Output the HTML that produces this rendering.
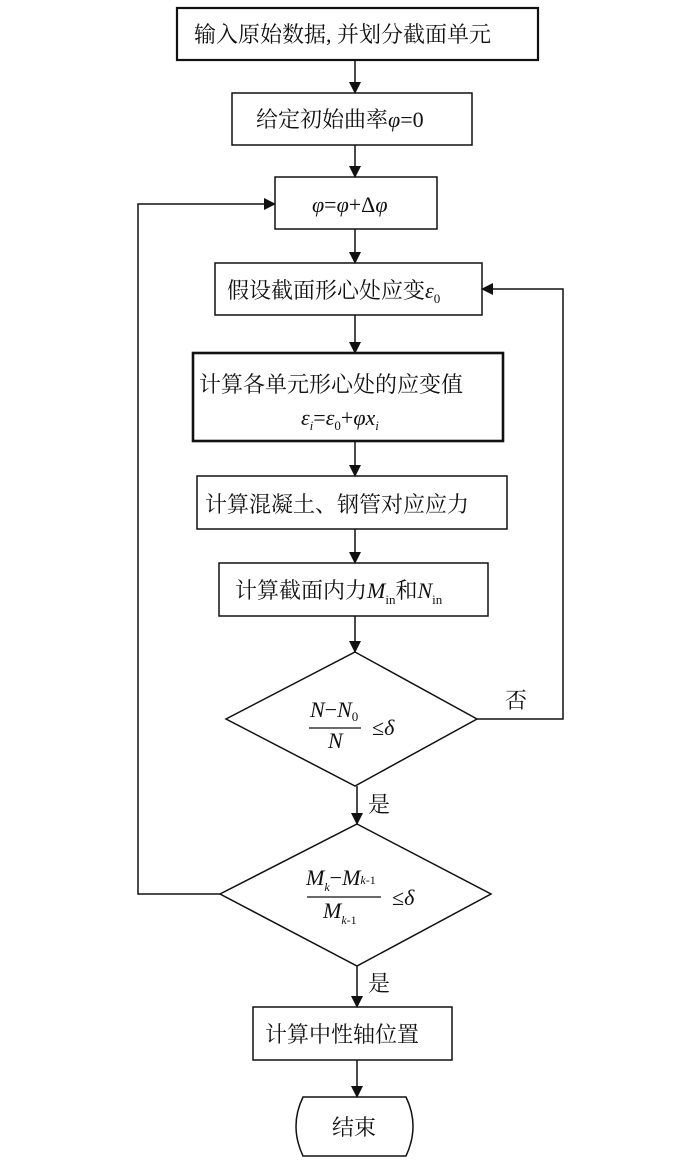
<!DOCTYPE html>
<html><head><meta charset="utf-8"><style>
html,body{margin:0;padding:0;background:#fff;}
svg{display:block;}
text{font-family:"Liberation Serif","Noto Serif CJK SC","Noto Sans CJK SC",serif;fill:#111;}
.c{font-size:22px;}
.i{font-style:italic;font-family:"Liberation Serif",serif;}
</style></head><body>
<svg width="700" height="1163" viewBox="0 0 700 1163" xmlns="http://www.w3.org/2000/svg">
<defs><marker id="a" markerWidth="10" markerHeight="10" refX="9" refY="5" orient="auto" markerUnits="userSpaceOnUse"><path d="M0,0 L10,5 L0,10 Z" fill="#111"/></marker>
<marker id="b" markerWidth="12" markerHeight="22" refX="11" refY="6" orient="auto" markerUnits="userSpaceOnUse"><path d="M0,0 L12,6 L0,12 Z" fill="#111"/></marker></defs>
<g fill="none" stroke="#111" stroke-width="1.5">
<rect x="177" y="8" width="361" height="52" stroke-width="2.2"/>
<rect x="232" y="93" width="240" height="52"/>
<rect x="275" y="177" width="162" height="52"/>
<rect x="215" y="263" width="267" height="52"/>
<rect x="193" y="353" width="310" height="88" stroke-width="2.6"/>
<rect x="197" y="476" width="310" height="53"/>
<rect x="219" y="563" width="269" height="53"/>
<polygon points="355,652 477,719 355,786 226,719"/>
<polygon points="357,824 491,894 357,966 220,894"/>
<rect x="253" y="1007" width="199" height="53"/>
<path d="M303,1097 L406,1097 Q420,1126 406,1156 L303,1156 Q289,1126 303,1097 Z"/>
<g marker-end="url(#b)">
<line x1="355" y1="60" x2="355" y2="93"/>
<line x1="355" y1="145" x2="355" y2="177"/>
<line x1="355" y1="229" x2="355" y2="263"/>
<line x1="355" y1="315" x2="355" y2="353"/>
<line x1="355" y1="441" x2="355" y2="476"/>
<line x1="355" y1="529" x2="355" y2="563"/>
<line x1="355" y1="616" x2="355" y2="652"/>
<line x1="357" y1="786" x2="357" y2="824"/>
<line x1="357" y1="966" x2="357" y2="1007"/>
<line x1="357" y1="1060" x2="357" y2="1097"/>
<polyline points="220,894 138,894 138,204 275,204"/>
<polyline points="477,719 563,719 563,289 482,289"/>
</g>
<line x1="309" y1="728" x2="361" y2="728" stroke-width="1.3"/>
<line x1="307" y1="897" x2="381" y2="897" stroke-width="1.3"/>
</g>
<text class="c" x="194" y="42">输入原始数据, 并划分截面单元</text>
<text class="c" x="256" y="127">给定初始曲率<tspan class="i">φ</tspan>=0</text>
<text class="c" x="312" y="212"><tspan class="i">φ</tspan>=<tspan class="i">φ</tspan>+Δ<tspan class="i">φ</tspan></text>
<text class="c" x="227" y="298">假设截面形心处应变<tspan class="i">ε</tspan><tspan font-size="13" dy="5">0</tspan></text>
<text class="c" x="199" y="392">计算各单元形心处的应变值</text>
<text class="c" x="301" y="425"><tspan class="i">ε</tspan><tspan class="i" font-size="13" dy="5">i</tspan><tspan dy="-5">=</tspan><tspan class="i">ε</tspan><tspan font-size="13" dy="5">0</tspan><tspan dy="-5">+</tspan><tspan class="i">φx</tspan><tspan class="i" font-size="13" dy="5">i</tspan></text>
<text class="c" x="205" y="512">计算混凝土、钢管对应应力</text>
<text class="c" x="235" y="598">计算截面内力<tspan class="i">M</tspan><tspan font-size="13" dy="6">in</tspan><tspan dy="-6">和</tspan><tspan class="i">N</tspan><tspan font-size="13" dy="6">in</tspan></text>
<text class="c" x="310" y="717"><tspan class="i">N</tspan>−<tspan class="i">N</tspan><tspan font-size="13" dy="4">0</tspan></text>
<text class="c i" x="328" y="748">N</text>
<text class="c" x="372" y="735">≤<tspan class="i">δ</tspan></text>
<text class="c" x="505" y="708">否</text>
<text class="c" x="368" y="812">是</text>
<text class="c" x="306" y="885"><tspan class="i">M</tspan><tspan class="i" font-size="12" dy="6">k</tspan><tspan dy="-6">−</tspan><tspan class="i">M</tspan><tspan class="i" font-size="12" dy="-1">k</tspan><tspan font-size="12">-1</tspan></text>
<text class="c" x="323" y="918"><tspan class="i">M</tspan><tspan class="i" font-size="12" dy="6">k</tspan><tspan font-size="12">-1</tspan></text>
<text class="c" x="392" y="905">≤<tspan class="i">δ</tspan></text>
<text class="c" x="368" y="991">是</text>
<text class="c" x="265" y="1042">计算中性轴位置</text>
<text class="c" x="332" y="1135">结束</text>
</svg>
</body></html>
